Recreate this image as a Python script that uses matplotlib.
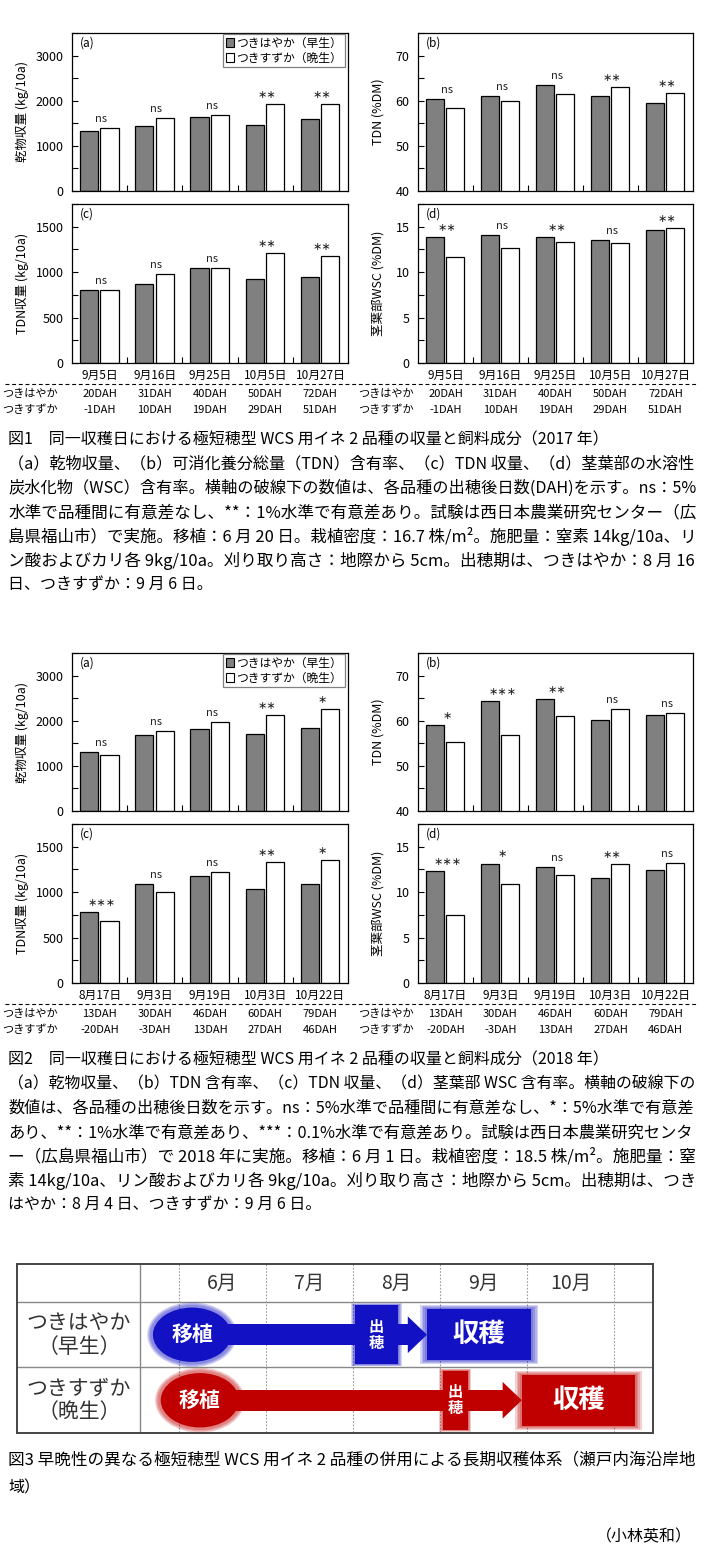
import matplotlib
matplotlib.use("Agg")
import matplotlib.pyplot as plt
import matplotlib.transforms as mtransforms
from matplotlib.patches import Patch, Rectangle, Ellipse, Polygon
from matplotlib.lines import Line2D

plt.rcParams['font.family'] = ['Noto Sans CJK JP', 'DejaVu Sans']

###############################################################################
# Data
###############################################################################
varieties_legend = ['つきはやか（早生）', 'つきすずか（晩生）']

# 2017 (Fig. 1)
dates_2017 = ['9月5日', '9月16日', '9月25日', '10月5日', '10月27日']
dah_early_2017 = ['20DAH', '31DAH', '40DAH', '50DAH', '72DAH']
dah_late_2017 = ['-1DAH', '10DAH', '19DAH', '29DAH', '51DAH']
dm_early_2017 = [1320, 1430, 1640, 1470, 1600]
dm_late_2017 = [1385, 1625, 1690, 1935, 1935]
dm_sig_2017 = ['ns', 'ns', 'ns', '**', '**']
tdn_early_2017 = [60.3, 61.0, 63.4, 61.1, 59.5]
tdn_late_2017 = [58.3, 59.9, 61.4, 63.0, 61.7]
tdn_sig_2017 = ['ns', 'ns', 'ns', '**', '**']
tdny_early_2017 = [805, 865, 1045, 925, 945]
tdny_late_2017 = [805, 975, 1045, 1210, 1175]
tdny_sig_2017 = ['ns', 'ns', 'ns', '**', '**']
wsc_early_2017 = [13.9, 14.1, 13.9, 13.5, 14.6]
wsc_late_2017 = [11.7, 12.7, 13.3, 13.2, 14.9]
wsc_sig_2017 = ['**', 'ns', '**', 'ns', '**']

# 2018 (Fig. 2)
dates_2018 = ['8月17日', '9月3日', '9月19日', '10月3日', '10月22日']
dah_early_2018 = ['13DAH', '30DAH', '46DAH', '60DAH', '79DAH']
dah_late_2018 = ['-20DAH', '-3DAH', '13DAH', '27DAH', '46DAH']
dm_early_2018 = [1310, 1685, 1815, 1705, 1840]
dm_late_2018 = [1245, 1780, 1980, 2125, 2255]
dm_sig_2018 = ['ns', 'ns', 'ns', '**', '*']
tdn_early_2018 = [59.1, 64.3, 64.9, 60.1, 61.3]
tdn_late_2018 = [55.2, 56.9, 61.0, 62.5, 61.6]
tdn_sig_2018 = ['*', '***', '**', 'ns', 'ns']
tdny_early_2018 = [785, 1085, 1175, 1030, 1095]
tdny_late_2018 = [685, 1005, 1220, 1330, 1350]
tdny_sig_2018 = ['***', 'ns', 'ns', '**', '*']
wsc_early_2018 = [12.3, 13.15, 12.8, 11.6, 12.4]
wsc_late_2018 = [7.5, 10.9, 11.9, 13.05, 13.2]
wsc_sig_2018 = ['***', '*', 'ns', '**', 'ns']

# Fig. 3 schedule (x in months, 6.0 = 1 June)
sched_names = ['つきはやか\n（早生）', 'つきすずか\n（晩生）']
sched_months = ['6月', '7月', '8月', '9月', '10月']
sched_month_start = [6, 7, 8, 9, 10]
transplant_at = [6.15, 6.24]
heading_from = [8.02, 9.03]
heading_to = [8.52, 9.32]
harvest_from = [8.85, 9.94]
harvest_to = [10.05, 11.24]
sched_colors = ['#1212C4', '#C00000']

caption1 = [
    '図1　同一収穫日における極短穂型 WCS 用イネ 2 品種の収量と飼料成分（2017 年）',
    '（a）乾物収量、（b）可消化養分総量（TDN）含有率、（c）TDN 収量、（d）茎葉部の水溶性',
    '炭水化物（WSC）含有率。横軸の破線下の数値は、各品種の出穂後日数(DAH)を示す。ns：5%',
    '水準で品種間に有意差なし、**：1%水準で有意差あり。試験は西日本農業研究センター（広',
    '島県福山市）で実施。移植：6 月 20 日。栽植密度：16.7 株/m²。施肥量：窒素 14kg/10a、リ',
    'ン酸およびカリ各 9kg/10a。刈り取り高さ：地際から 5cm。出穂期は、つきはやか：8 月 16',
    '日、つきすずか：9 月 6 日。',
]
caption2 = [
    '図2　同一収穫日における極短穂型 WCS 用イネ 2 品種の収量と飼料成分（2018 年）',
    '（a）乾物収量、（b）TDN 含有率、（c）TDN 収量、（d）茎葉部 WSC 含有率。横軸の破線下の',
    '数値は、各品種の出穂後日数を示す。ns：5%水準で品種間に有意差なし、*：5%水準で有意差',
    'あり、**：1%水準で有意差あり、***：0.1%水準で有意差あり。試験は西日本農業研究センタ',
    'ー（広島県福山市）で 2018 年に実施。移植：6 月 1 日。栽植密度：18.5 株/m²。施肥量：窒',
    '素 14kg/10a、リン酸およびカリ各 9kg/10a。刈り取り高さ：地際から 5cm。出穂期は、つき',
    'はやか：8 月 4 日、つきすずか：9 月 6 日。',
]
caption3 = [
    '図3 早晩性の異なる極短穂型 WCS 用イネ 2 品種の併用による長期収穫体系（瀬戸内海沿岸地',
    '域）',
]
author = '（小林英和）'

###############################################################################
# Figure + pixel helpers
###############################################################################
W, H = 705, 1560
fig = plt.figure(figsize=(W / 100, H / 100), dpi=100)


def px_axes(x0, y0, x1, y1):
    return fig.add_axes([x0 / W, 1 - y1 / H, (x1 - x0) / W, (y1 - y0) / H])


def ftext(x, y, s, **kw):
    return fig.text(x / W, 1 - y / H, s, **kw)


def fitted_line(x, y, s, width, size):
    # draw a caption line and stretch its font size so it fills "width" pixels
    t = ftext(x, y, s, fontsize=size, ha='left', va='center')
    if width is None:
        return t
    r = fig.canvas.get_renderer()
    w = t.get_window_extent(renderer=r).width
    t.set_fontsize(size * width / w)
    return t


def bar_panel(ax, early, late, sig, ylo, ymax, major, ylabel, tag, ylab_x):
    n = len(early)
    xs = list(range(n))
    ax.bar([x - 0.19 for x in xs], early, 0.33, color='#808080', edgecolor='black', linewidth=0.9)
    ax.bar([x + 0.18 for x in xs], late, 0.33, color='white', edgecolor='black', linewidth=0.9)
    for i in xs:
        # centred asterisk operator keeps the marks at mid height like the original
        mark = sig[i].replace('*', '\u2217')
        ax.annotate(mark, (i + 0.03, max(early[i], late[i])), xytext=(0, 6.5), textcoords='offset points',
                    ha='center', va='center', fontsize=8, color='#222222',
                    family=['DejaVu Sans'] if '*' in sig[i] else None)
    ax.set_xlim(-0.5, n - 0.5)
    ax.set_ylim(ylo, ymax)
    nmaj = int(round((ymax - ylo) / major))
    ax.set_yticks([ylo + major * k for k in range(nmaj + 1) if ylo + major * k <= ymax])
    ax.set_yticks([ylo + major * (k + 0.5) for k in range(nmaj)], minor=True)
    ax.set_xticks([i + 0.5 for i in range(n - 1)])
    ax.set_xticklabels([])
    ax.tick_params(axis='y', which='both', direction='in', length=4, width=0.8, labelsize=9, pad=6)
    ax.tick_params(axis='x', which='major', direction='in', length=4, width=0.8)
    for s in ax.spines.values():
        s.set_linewidth(0.9)
    ax.text(0.028, 0.935, tag, transform=ax.transAxes, fontsize=8.5, ha='left', va='center')
    bb = ax.get_position()
    fig.text(ylab_x / W, bb.y0 + bb.height / 2, ylabel, rotation=90, ha='center', va='center', fontsize=9)


def bottom_labels(ax, dates, dah_e, dah_l, y_r1, y_r2, xrow):
    ax.set_xticks(range(len(dates)), minor=True)
    ax.set_xticklabels(dates, minor=True, fontsize=8.5)
    ax.tick_params(axis='x', which='minor', length=0, pad=4)
    trans = mtransforms.blended_transform_factory(ax.transData, fig.transFigure)
    for i in range(len(dates)):
        ax.text(i, 1 - y_r1 / H, dah_e[i], transform=trans, ha='center', va='center', fontsize=8)
        ax.text(i, 1 - y_r2 / H, dah_l[i], transform=trans, ha='center', va='center', fontsize=8)
    ftext(xrow, y_r1, 'つきはやか', fontsize=8, ha='left', va='center')
    ftext(xrow, y_r2, 'つきすずか', fontsize=8, ha='left', va='center')


def legend_box(ax):
    handles = [Patch(facecolor='#808080', edgecolor='black', linewidth=0.8),
               Patch(facecolor='white', edgecolor='black', linewidth=0.8)]
    leg = ax.legend(handles, varieties_legend, loc='upper right', bbox_to_anchor=(0.99, 0.995),
                    borderaxespad=0, fontsize=8.5, handlelength=0.7, handleheight=0.7,
                    handletextpad=0.2, labelspacing=0.15, borderpad=0.25, fancybox=False,
                    framealpha=1)
    leg.get_frame().set_edgecolor('#808080')
    leg.get_frame().set_linewidth(0.9)


def figure_block(top, data, dates, dah_e, dah_l):
    (dm_e, dm_l, dm_s, tdn_e, tdn_l, tdn_s, ty_e, ty_l, ty_s, w_e, w_l, w_s) = data
    axa = px_axes(72, top, 348, top + 158)
    axb = px_axes(418, top, 693, top + 158)
    axc = px_axes(72, top + 171, 348, top + 330)
    axd = px_axes(418, top + 171, 693, top + 330)
    bar_panel(axa, dm_e, dm_l, dm_s, 0, 3500, 1000, '乾物収量 (kg/10a)', '(a)', 22)
    legend_box(axa)
    bar_panel(axb, tdn_e, tdn_l, tdn_s, 40, 75, 10, 'TDN (%DM)', '(b)', 378)
    bar_panel(axc, ty_e, ty_l, ty_s, 0, 1750, 500, 'TDN収量 (kg/10a)', '(c)', 22)
    bar_panel(axd, w_e, w_l, w_s, 0, 17.5, 5, '茎葉部WSC (%DM)', '(d)', 378)
    bottom_labels(axc, dates, dah_e, dah_l, top + 361, top + 377, 2)
    bottom_labels(axd, dates, dah_e, dah_l, top + 361, top + 377, 358)
    yd = 1 - (top + 351) / H
    fig.add_artist(Line2D([5 / W, 697 / W], [yd, yd], transform=fig.transFigure,
                          color='black', lw=0.8, ls=(0, (3.5, 2.5))))


###############################################################################
# Fig. 1 and Fig. 2
###############################################################################
figure_block(33, (dm_early_2017, dm_late_2017, dm_sig_2017, tdn_early_2017, tdn_late_2017, tdn_sig_2017,
                  tdny_early_2017, tdny_late_2017, tdny_sig_2017, wsc_early_2017, wsc_late_2017, wsc_sig_2017),
             dates_2017, dah_early_2017, dah_late_2017)
figure_block(653, (dm_early_2018, dm_late_2018, dm_sig_2018, tdn_early_2018, tdn_late_2018, tdn_sig_2018,
                   tdny_early_2018, tdny_late_2018, tdny_sig_2018, wsc_early_2018, wsc_late_2018, wsc_sig_2018),
             dates_2018, dah_early_2018, dah_late_2018)

# captions
for k, line in enumerate(caption1):
    full = 1 <= k <= 5
    fitted_line(8, 440 + 24.2 * k, line, 688 if full else None, 11.5)
for k, line in enumerate(caption2):
    full = 1 <= k <= 5
    fitted_line(8, 1060 + 24.2 * k, line, 688 if full else None, 11.5)

###############################################################################
# Fig. 3 schedule table
###############################################################################
axs = px_axes(17, 1264, 653, 1433)
x_left, x_right = 6 - 162 / 87, 6 + 474 / 87
axs.set_xlim(x_left, x_right)
axs.set_ylim(1.5, -1.08)
axs.set_xticks([])
axs.set_yticks([])
for s in axs.spines.values():
    s.set_color('#444444')
    s.set_linewidth(1.4)
for yl in [-0.5, 0.5]:
    axs.plot([x_left, x_right], [yl, yl], color='#888888', lw=1.0)
axs.plot([6 - 39 / 87] * 2, [-1.08, 1.5], color='#888888', lw=1.0)
for m in sched_month_start + [sched_month_start[-1] + 1]:
    axs.plot([m, m], [-1.08, 1.5], color='#999999', lw=0.8, ls=(0, (1.5, 1.5)))
for m, lab in zip(sched_month_start, sched_months):
    axs.text(m + 0.5, -0.79, lab, ha='center', va='center', fontsize=14, color='#333333')


def soft_rect(ax, x0, x1, yc, h, color, glow=0.06):
    for k in range(4, 0, -1):
        e = glow * k / 4
        ax.add_patch(Rectangle((x0 - e, yc - h / 2 - e * 0.75), x1 - x0 + 2 * e, h + 1.5 * e,
                               facecolor=color, edgecolor='none', alpha=0.18, zorder=3))
    ax.add_patch(Rectangle((x0, yc - h / 2), x1 - x0, h, facecolor=color, edgecolor='none', zorder=4))


for r in range(len(sched_names)):
    c = sched_colors[r]
    axs.text(6 - 100 / 87, r, sched_names[r], ha='center', va='center', fontsize=15,
             linespacing=1.1, color='#333333')
    head_len = 0.22
    # shaft and arrow head
    axs.add_patch(Rectangle((transplant_at[r], r - 0.16), harvest_from[r] - head_len - transplant_at[r], 0.32,
                            facecolor=c, edgecolor='none', zorder=3))
    axs.add_patch(Polygon([(harvest_from[r] - head_len, r - 0.28), (harvest_from[r], r),
                           (harvest_from[r] - head_len, r + 0.28)], closed=True,
                          facecolor=c, edgecolor='none', zorder=3))
    # transplanting ellipse
    for k in range(3, 0, -1):
        axs.add_patch(Ellipse((transplant_at[r], r), 0.94 + 0.03 * k, 0.87 + 0.04 * k,
                              facecolor=c, edgecolor='none', alpha=0.2, zorder=4))
    axs.add_patch(Ellipse((transplant_at[r], r), 0.9, 0.83, facecolor=c, edgecolor='none', zorder=4))
    axs.text(transplant_at[r], r, '移植', ha='center', va='center', fontsize=15, fontweight='bold',
             color='white', zorder=6)
    # heading box
    soft_rect(axs, heading_from[r], heading_to[r], r, 0.9, c, glow=0.04)
    axs.text((heading_from[r] + heading_to[r]) / 2, r, '出\n穂', ha='center', va='center', fontsize=11,
             fontweight='bold', color='white', linespacing=1.0, zorder=6)
    # harvest box
    soft_rect(axs, harvest_from[r], harvest_to[r], r, 0.78, c, glow=0.08)
    axs.text((harvest_from[r] + harvest_to[r]) / 2, r, '収穫', ha='center', va='center', fontsize=19,
             fontweight='bold', color='white', zorder=6)

for k, line in enumerate(caption3):
    fitted_line(8, 1460 + 27.5 * k, line, 688 if k == 0 else None, 11.5)
ftext(692, 1537, author, fontsize=11.5, ha='right', va='center')

fig.savefig('out.png', dpi=100)
